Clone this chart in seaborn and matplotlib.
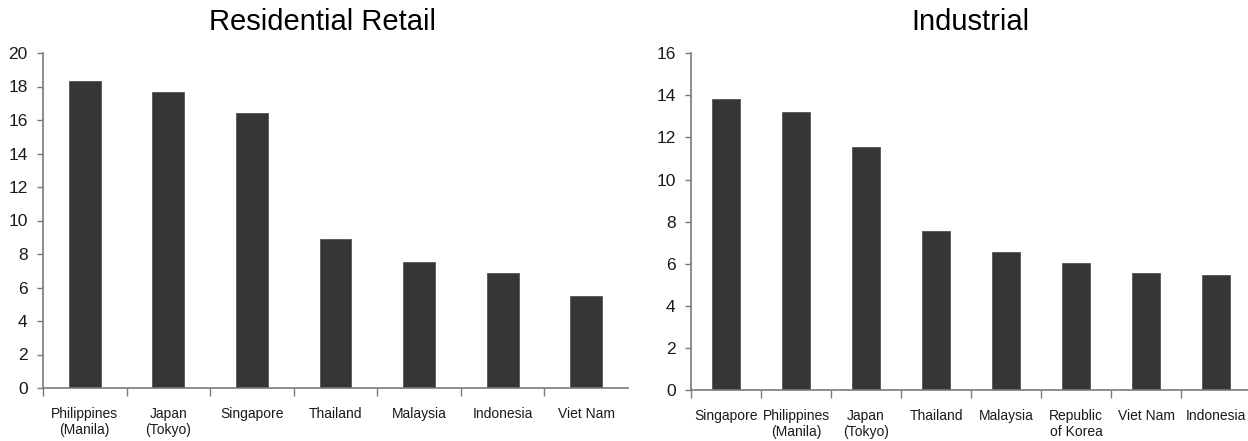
import matplotlib
matplotlib.use("Agg")
import matplotlib.pyplot as plt
import numpy as np
import pandas as pd
import seaborn as sns

sns.set_theme(style="white")
plt.rcParams['font.family'] = ['Liberation Sans Narrow', 'Liberation Sans', 'DejaVu Sans']

# Residential retail
res_labels = ["Philippines\n(Manila)", "Japan\n(Tokyo)", "Singapore", "Thailand",
              "Malaysia", "Indonesia", "Viet Nam"]
res_values = [18.35, 17.7, 16.4, 8.9, 7.55, 6.85, 5.5]
res_ticks = list(range(0, 21, 2))

# Industrial
ind_labels = ["Singapore", "Philippines\n(Manila)", "Japan\n(Tokyo)", "Thailand",
              "Malaysia", "Republic\nof Korea", "Viet Nam", "Indonesia"]
ind_values = [13.85, 13.2, 11.55, 7.55, 6.58, 6.04, 5.58, 5.45]
ind_ticks = list(range(0, 17, 2))

BAR = "#363636"
AXIS = "#7a7a7a"
TEXT = "#1a1a1a"

fig = plt.figure(figsize=(12.48, 4.41), dpi=100)
ax1 = fig.add_axes([43 / 1248, 1 - 388 / 441, (628 - 43) / 1248, (388 - 53) / 441])
ax2 = fig.add_axes([691 / 1248, 1 - 390 / 441, (1251 - 691) / 1248, (390 - 53.3) / 441])


def draw(ax, labels, values, ticks, width, title, title_x):
    df = pd.DataFrame({"country": labels, "value": values})
    sns.barplot(data=df, x="country", y="value", ax=ax, color=BAR,
                width=width, saturation=1, edgecolor="#555555", linewidth=0.6)
    n = len(labels)
    ax.set_xlim(-0.5, n - 0.5)
    ax.set_ylim(ticks[0], ticks[-1])
    ax.set_yticks(ticks)
    ax.set_yticklabels([str(t) for t in ticks], fontsize=12.5, color=TEXT)
    ax.set_xticks(range(n))
    ax.set_xticklabels(labels, fontsize=10, color=TEXT, linespacing=1.15)
    ax.set_xticks(np.arange(-0.5, n - 0.5, 1.0), minor=True)
    ax.tick_params(axis="x", which="major", length=0, pad=14)
    ax.tick_params(axis="x", which="minor", length=6, width=1, color=AXIS,
                   direction="out", bottom=True)
    ax.tick_params(axis="y", length=4, width=1, color=AXIS, direction="out",
                   left=True, pad=7)
    ax.set_xlabel("")
    ax.set_ylabel("")
    for s in ["top", "right"]:
        ax.spines[s].set_visible(False)
    for s in ["left", "bottom"]:
        ax.spines[s].set_color(AXIS)
        ax.spines[s].set_linewidth(1.2)
    ax.set_title("")
    fig.text(title_x, 1 - 22 / 441, title, ha="center", va="center",
             fontsize=21, color="black", family=['Liberation Sans', 'DejaVu Sans'])


draw(ax1, res_labels, res_values, res_ticks, 0.38, "Residential Retail", 322 / 1248)
draw(ax2, ind_labels, ind_values, ind_ticks, 0.40, "Industrial", 970 / 1248)

fig.savefig("out.png", dpi=100)
